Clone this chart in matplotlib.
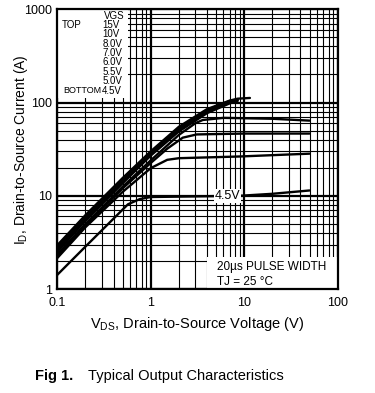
import numpy as np
import matplotlib
matplotlib.use("Agg")
import matplotlib.pyplot as plt
from matplotlib.patches import Rectangle

plt.rcParams['font.family'] = ['Liberation Sans', 'DejaVu Sans']
plt.rcParams['mathtext.fontset'] = 'custom'
plt.rcParams['mathtext.rm'] = 'Liberation Sans'

# output curves, V_DS (V) -> I_D (A), one per gate voltage
vgs_labels = ["15V", "10V", "8.0V", "7.0V", "6.0V", "5.5V", "5.0V", "4.5V"]

v_15 = [0.1, 0.2, 0.5, 1, 2, 4, 7, 8.5, 11.5]
i_15 = [2.95, 6.2, 15.5, 30, 55, 85, 105, 110, 112]
v_10 = [0.1, 0.2, 0.5, 1, 2, 4, 7, 8.5]
i_10 = [2.8, 6.0, 15.0, 29, 53, 83, 104, 108]
v_8 = [0.1, 0.2, 0.5, 1, 2, 4, 7, 8.5]
i_8 = [2.65, 5.7, 14.3, 28, 51, 80, 101, 106]
v_7 = [0.1, 0.2, 0.5, 1, 2, 4, 7, 8.5]
i_7 = [2.5, 5.4, 13.6, 27, 49, 77, 98, 104]
v_6 = [0.1, 0.2, 0.5, 1, 2, 3, 3.6, 6, 20, 50]
i_6 = [2.35, 5.0, 12.5, 24, 45, 60, 65, 68.5, 67, 64]
v_55 = [0.1, 0.2, 0.5, 1, 1.5, 2.2, 3.1, 10, 50]
i_55 = [2.25, 4.8, 12.0, 22.5, 32, 42, 45.5, 46.5, 46.5]
v_5 = [0.1, 0.2, 0.5, 1, 1.5, 2, 9, 50]
i_5 = [2.15, 4.6, 11.0, 19.8, 24.3, 25.3, 26.4, 28.3]
v_45 = [0.1, 0.2, 0.57, 0.76, 1, 9, 20, 50]
i_45 = [1.42, 2.85, 8.1, 9.2, 9.7, 10.0, 10.5, 11.4]

curves = [(v_15, i_15), (v_10, i_10), (v_8, i_8), (v_7, i_7),
          (v_6, i_6), (v_55, i_55), (v_5, i_5), (v_45, i_45)]

fig = plt.figure(figsize=(3.75, 3.93), dpi=100)
ax = fig.add_axes([0.1528, 0.2646, 0.7477, 0.7117])
ax.set_xscale('log')
ax.set_yscale('log')
ax.set_xlim(0.1, 100)
ax.set_ylim(1, 1000)

ax.grid(True, which='major', color='black', lw=1.6, zorder=1)
ax.grid(True, which='minor', color='black', lw=0.8, zorder=1)
ax.set_axisbelow(True)

# white boxes behind the notes
ax.add_patch(Rectangle((0, 0.683), 0.252, 0.317, transform=ax.transAxes,
                       facecolor='white', edgecolor='none', zorder=2))
ax.add_patch(Rectangle((0.535, 0), 0.465, 0.115, transform=ax.transAxes,
                       facecolor='white', edgecolor='none', zorder=2))

for v, i in curves:
    ax.plot(v, i, color='black', lw=1.7, zorder=3, solid_capstyle='round')

ax.text(6.6, 10, "4.5V", fontsize=9, ha='center', va='center', zorder=4,
        bbox=dict(facecolor='white', edgecolor='none', pad=0.5))

# gate voltage list
col_x = 0.16
ax.text(col_x + 0.007, 0.976, "VGS", fontsize=7, transform=ax.transAxes, va='center', zorder=4)
row_y = 0.944
for k, lab in enumerate(vgs_labels):
    ax.text(col_x, row_y - k * 0.0335, lab, fontsize=7, transform=ax.transAxes,
            va='center', zorder=4)
ax.text(0.017, row_y, "TOP", fontsize=7, transform=ax.transAxes, va='center', zorder=4)
ax.text(col_x - 0.003, row_y - 7 * 0.0335, "BOTTOM", fontsize=6.5, transform=ax.transAxes,
        va='center', ha='right', zorder=4)

ax.text(0.568, 0.08, "20\u00b5s PULSE WIDTH", fontsize=8.5, transform=ax.transAxes,
        va='center', zorder=4)
ax.text(0.568, 0.026, "TJ = 25 \u00b0C", fontsize=8.5, transform=ax.transAxes,
        va='center', zorder=4)

ax.set_xticks([0.1, 1, 10, 100])
ax.set_xticklabels(["0.1", "1", "10", "100"])
ax.set_yticks([1, 10, 100, 1000])
ax.set_yticklabels(["1", "10", "100", "1000"])
ax.tick_params(which='both', length=0, labelsize=9)
ax.tick_params(axis='x', pad=6)
ax.tick_params(axis='y', pad=4)

for s in ax.spines.values():
    s.set_linewidth(1.6)
    s.set_zorder(5)

ax.set_xlabel(r"$\mathregular{V_{DS}}$, Drain-to-Source Voltage (V)", fontsize=10.5, labelpad=4)
ax.set_ylabel(r"$\mathregular{I_{D}}$, Drain-to-Source Current (A)", fontsize=10)
ax.yaxis.set_label_coords(-0.097, 0.5)

fig.text(0.093, 0.043, "Fig 1.", fontsize=10.5, fontweight='bold', va='center')
fig.text(0.235, 0.043, "Typical Output Characteristics", fontsize=10.5, va='center')

fig.savefig("out.png", dpi=100)
